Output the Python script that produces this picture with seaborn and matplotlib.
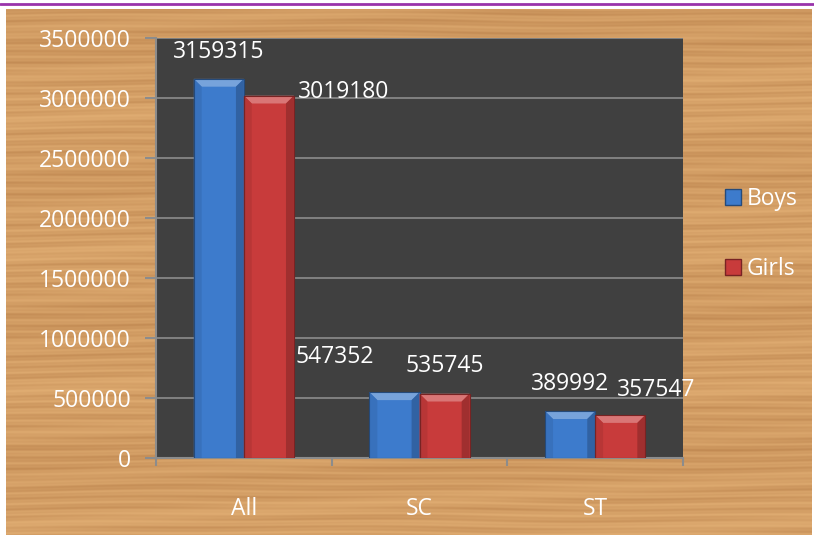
import numpy as np
import pandas as pd
import matplotlib
matplotlib.use("Agg")
import matplotlib.pyplot as plt
from matplotlib.patches import Polygon, Rectangle
from matplotlib.lines import Line2D
import seaborn as sns

# ---- data ----
categories = ["All", "SC", "ST"]
boys = [3159315, 547352, 389992]
girls = [3019180, 535745, 357547]
series = ["Boys", "Girls"]
yticks = [0, 500000, 1000000, 1500000, 2000000, 2500000, 3000000, 3500000]

# label offsets in pixels (manual Excel label positions)
label_offsets = {
    ("Boys", "All"): (0, 27), ("Girls", "All"): (75, 4),
    ("Boys", "SC"): (-60, 35), ("Girls", "SC"): (0, 28),
    ("Boys", "ST"): (0, 27), ("Girls", "ST"): (36, 25),
}

df = pd.DataFrame({
    "cat": categories * 2,
    "series": ["Boys"] * 3 + ["Girls"] * 3,
    "value": boys + girls,
})

sns.set_theme(style="white")
plt.rcParams["font.family"] = ["Open Sans", "DejaVu Sans"]
FS = 16.5

W, H = 814, 537
fig = plt.figure(figsize=(W / 100, H / 100), dpi=100)
fig.patch.set_facecolor("white")

# ---- wood-like background (decorative, deterministic) ----
bg = fig.add_axes([6 / W, 1 - 535 / H, (812 - 6) / W, (535 - 9) / H])
yy, xx = np.mgrid[0:526, 0:806].astype(float)
phase = yy * 0.62 + 0.9 * np.sin(xx * 0.007) + 0.5 * np.sin(xx * 0.019 + yy * 0.05)
s = 0.5 + 0.2 * np.sin(phase) + 0.12 * np.sin(phase * 2.7 + xx * 0.003)
s = s * (0.75 + 0.25 * np.sin(xx * 0.013 + yy * 0.21) * np.sin(xx * 0.004 + yy * 0.07))
s = s + 0.08 * np.sin(yy * 0.045 + xx * 0.001)
s = np.clip(s, 0, 1)
light = np.array([0.88, 0.68, 0.45])
dark = np.array([0.62, 0.38, 0.18])
img = light[None, None, :] * (1 - s[..., None] * 0.55) + dark[None, None, :] * (s[..., None] * 0.55)
bg.imshow(img, aspect="auto", interpolation="bilinear")
bg.axis("off")

# purple top line
fig.add_artist(Line2D([0, 1], [1 - 4 / H, 1 - 4 / H], color="#9933aa", lw=2, transform=fig.transFigure))

# ---- main axes ----
ax = fig.add_axes([156 / W, 1 - 458 / H, (683 - 156) / W, (458 - 38) / H])
ax.set_facecolor("#404040")
palette = {"Boys": "#3d7bcc", "Girls": "#c83b3b"}
sns.barplot(data=df, x="cat", y="value", hue="series", order=categories,
            hue_order=series, palette=palette, width=0.57, gap=0,
            saturation=1, edgecolor="none", ax=ax, legend=False, zorder=3)

ax.set_ylim(0, 3500000)
ax.set_xlim(-0.5, 2.5)
ax.set_yticks(yticks)
ax.set_yticklabels([str(v) for v in yticks])
ax.yaxis.grid(True, color="#8c8c8c", lw=1.2, zorder=0)
ax.set_axisbelow(True)
ax.set_xlabel("")
ax.set_ylabel("")

for sp in ["top", "right"]:
    ax.spines[sp].set_visible(False)
for sp in ["left", "bottom"]:
    ax.spines[sp].set_color("#8c8c8c")
    ax.spines[sp].set_linewidth(1.5)

ax.tick_params(axis="y", colors="#8c8c8c", length=8, width=1.5, labelcolor="white",
               labelsize=FS, pad=10, left=True)
ax.set_xticks([0, 1, 2])
ax.set_xticklabels(categories)
ax.tick_params(axis="x", length=0, labelcolor="white", labelsize=FS, pad=28)
# category boundary ticks
ax.set_xticks([-0.5, 0.5, 1.5, 2.5], minor=True)
ax.tick_params(axis="x", which="minor", length=6, width=1.5, colors="#8c8c8c", bottom=True)

# ---- bevel effect on bars ----
dx = 0.045
dy = 65000
def shade(c, f):
    c = np.array(matplotlib.colors.to_rgb(c))
    return tuple(np.clip(c * f if f < 1 else c + (1 - c) * (f - 1), 0, 1))

patches = sorted(ax.patches, key=lambda p: p.get_x())
for p in patches:
    x0, w, h = p.get_x(), p.get_width(), p.get_height()
    c = p.get_facecolor()
    x1 = x0 + w
    d = min(dy, h * 0.3)
    ax.add_patch(Polygon([(x0, h), (x1, h), (x1 - dx, h - d), (x0 + dx, h - d)],
                         closed=True, fc=shade(c, 1.3), ec="none", zorder=4))
    ax.add_patch(Polygon([(x0, 0), (x0, h), (x0 + dx, h - d), (x0 + dx, 0)],
                         closed=True, fc=shade(c, 0.92), ec="none", zorder=4))
    ax.add_patch(Polygon([(x1, 0), (x1, h), (x1 - dx, h - d), (x1 - dx, 0)],
                         closed=True, fc=shade(c, 0.8), ec="none", zorder=4))
    ax.add_patch(Rectangle((x0, 0), w, h, fc="none", ec=shade(c, 0.6), lw=0.8, zorder=5))

# ---- data labels ----
for si, (name, vals) in enumerate([("Boys", boys), ("Girls", girls)]):
    for ci, (cat, v) in enumerate(zip(categories, vals)):
        xc = ci + (-0.1425 if si == 0 else 0.1425)
        off = label_offsets[(name, cat)]
        ax.annotate(str(v), xy=(xc, v), xytext=off, textcoords="offset pixels",
                    ha="center", va="center", color="white", fontsize=FS, zorder=6,
                    annotation_clip=False)

# ---- legend ----
handles = [Line2D([], [], marker="s", ls="none", markersize=11,
                  markerfacecolor=palette[s], markeredgecolor=shade(palette[s], 0.6))
           for s in series]
fig.legend(handles, series, loc="center left", bbox_to_anchor=(712 / W, 1 - 234 / H),
           frameon=False, fontsize=FS, labelcolor="white", handletextpad=0.1,
           labelspacing=2.0, handlelength=1.0, borderaxespad=0)

fig.savefig("out.png", dpi=100)
